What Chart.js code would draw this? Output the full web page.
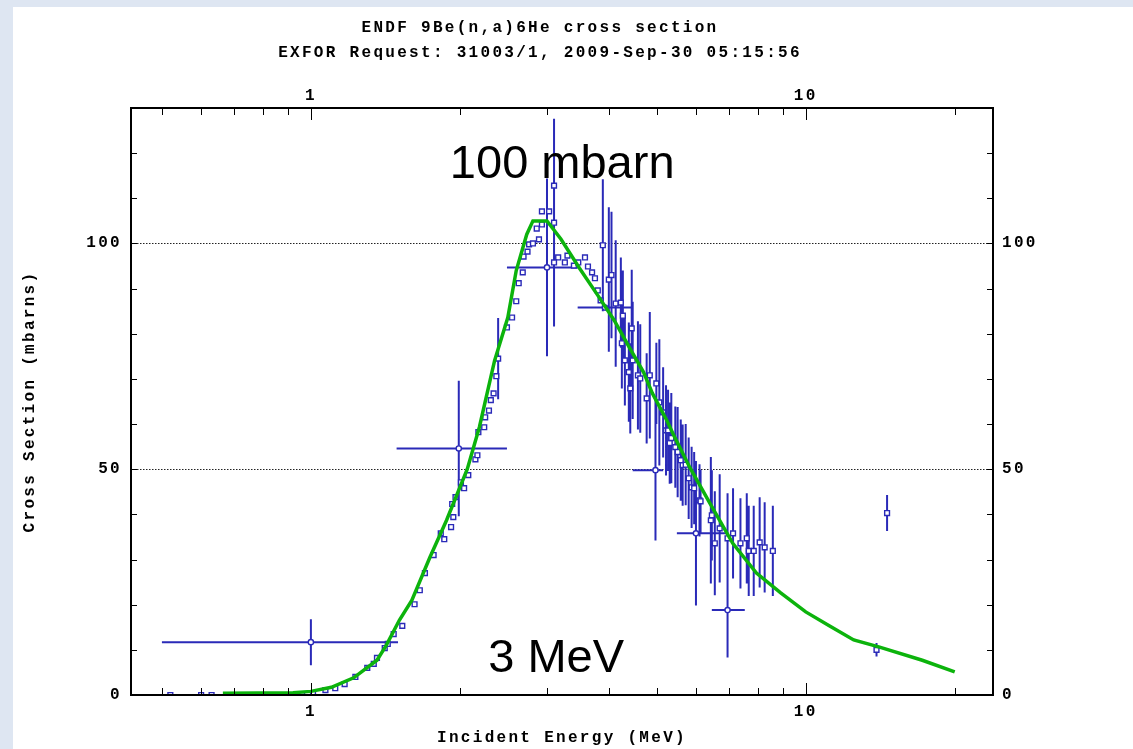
<!DOCTYPE html>
<html>
<head>
<meta charset="utf-8">
<title>ENDF 9Be(n,a)6He cross section</title>
<script src="https://cdn.jsdelivr.net/npm/chart.js@4.4.1/dist/chart.umd.min.js"></script>
<style>
  html, body { margin: 0; padding: 0; background: #dee6f2; }
  #wrap { width: 1133px; height: 749px; }
</style>
</head>
<body>
<div id="wrap"><canvas id="xsChart" width="1133" height="749"></canvas></div>
<script>
// ENDF evaluation (green curve), energy in MeV, cross section in mbarn
const endfE  = [0.664, 0.92, 1.0, 1.1, 1.22, 1.36, 1.42, 1.51, 1.6, 1.74, 1.88, 2.07, 2.19, 2.35, 2.5, 2.6, 2.73, 2.81, 3.0, 3.2,
                3.49, 3.8, 4.1, 4.4, 4.7, 4.9, 5.24, 5.44, 5.83, 6.4, 7.12, 7.95, 8.9, 10, 11.2, 12.5, 14.1, 17.2, 20];
const endfXs = [0.4, 0.5, 0.8, 1.7, 3.8, 7.7, 11, 16.6, 21, 30.5, 38.7, 50, 59.3, 74, 83.6, 94, 102, 105, 105, 101,
                94.5, 88.5, 83, 77, 71.5, 66.8, 60.8, 57, 50.4, 42.5, 33.6, 27, 22.6, 18.4, 15.2, 12.2, 10.6, 7.7, 5.1];

// EXFOR data, open squares without error bars
const sqE  = [0.52, 0.60, 0.63, 0.96, 1.01, 1.07, 1.12, 1.17, 1.23, 1.30, 1.34, 1.36, 1.41, 1.43, 1.47, 1.53, 1.62, 1.66, 1.70, 1.77,
              1.83, 1.86, 1.92, 1.94, 1.93, 1.96, 2.01, 2.04, 2.08, 2.15, 2.17, 2.18, 2.24, 2.25, 2.29, 2.31, 2.34, 2.37, 2.49, 2.55,
              2.60, 2.63, 2.68, 2.69, 2.74, 2.76, 2.81, 2.89, 2.86, 2.93, 2.93, 3.03, 3.10, 3.16, 3.10, 3.26, 3.30, 3.40, 3.47, 3.58,
              3.63, 3.70, 3.75, 3.80, 3.85];
const sqXs = [0, 0, 0, 0, 0.4, 1.1, 1.5, 2.4, 4, 6, 6.9, 8.2, 10.4, 11.3, 13.5, 15.3, 20.1, 23.2, 27, 31,
              35.8, 34.5, 37.2, 39.4, 42.3, 43.8, 47.1, 45.8, 48.7, 52.2, 53.1, 58.2, 59.3, 61.5, 63, 65.3, 66.8, 70.6, 81.4, 83.6,
              87.2, 91.2, 93.6, 97.1, 98.2, 99.8, 100, 100.9, 103.3, 104.2, 107.1, 107.1, 112.8, 96.9, 95.8, 95.8, 97.3, 95.1, 95.8, 96.9,
              94.9, 93.6, 92.3, 89.6, 87.4];

// EXFOR data with vertical error bars
const ebE  = [2.39, 3.10, 3.89, 4.0, 4.05, 4.13, 4.23, 4.27, 4.45, 4.25, 4.31, 4.39, 4.42, 4.47, 4.58, 4.63, 4.77, 4.84, 4.99, 5.06,
              5.15, 5.22, 5.27, 5.31, 5.35, 5.45, 5.51, 5.59, 5.64, 5.72, 5.8, 5.88, 5.95, 6.1, 6.13, 6.43, 6.46, 6.55, 6.7, 6.95,
              7.13, 7.38, 7.6, 7.67, 7.85, 8.07, 8.26, 8.58, 13.9, 14.6];
const ebXs = [74.5, 104.6, 99.6, 92, 93, 86.7, 86.9, 84, 81.2, 77.9, 74.1, 71.5, 67.9, 74.1, 70.8, 70.1, 65.7, 70.8, 69, 64.8,
              62.6, 58.6, 58.6, 55.8, 56.9, 54.9, 53.8, 52, 50.9, 51, 48, 46, 45.8, 43.1, 42.9, 38.7, 39.8, 33.6, 36.9, 34.7,
              35.8, 33.6, 34.7, 31.9, 31.9, 33.8, 32.7, 31.9, 10, 40.3];
const ebDy = [9, 23, 14.6, 16, 14, 14, 10, 10, 13, 10, 10, 11, 10, 13, 12, 12, 10, 14, 9, 14,
              10, 10, 9, 9, 10, 9, 10, 9, 9, 9, 9, 9, 8, 8, 7, 14, 10, 11.5, 12, 10,
              10, 10, 10, 10, 10, 10, 10, 10, 1.5, 4];

// EXFOR data with energy and cross section error bars (open circles)
const crE   = [1.0, 1.99, 3.0, 3.93, 4.97, 6.0, 6.95];
const crXs  = [11.7, 54.6, 94.7, 85.8, 49.8, 35.8, 18.8];
const crDy  = [5.1, 15, 19.7, 0, 15.6, 16, 10.5];
const crElo = [0.5, 1.49, 2.49, 3.46, 4.47, 5.49, 6.46];
const crEhi = [1.5, 2.49, 3.49, 4.45, 5.15, 6.93, 7.53];

// axes
const xTickVals  = [0.5, 0.6, 0.7, 0.8, 0.9, 1, 2, 3, 4, 5, 6, 7, 8, 9, 10, 20];
const xLabelVals = [1, 10];
const yTickVals  = [10, 20, 30, 40, 50, 60, 70, 80, 90, 100, 110, 120];
const yLabelVals = [0, 50, 100];
const yGridVals  = [50, 100];

// text written on the plot
const annoText = ['100 mbarn', '3 MeV'];
const annoE    = [3.22, 3.13];
const annoXs   = [114.4, 5.1];

const blue = '#2a2ab8';
const spacing = '2.3px';

function pts(xs, ys) {
    return xs.map((x, i) => ({ x: x, y: ys[i] }));
}

const pagePlugin = {
    id: 'page',
    beforeLayout(chart) {
        chart.ctx.letterSpacing = spacing;
    },
    beforeDraw(chart) {
        const ctx = chart.ctx;
        ctx.save();
        ctx.fillStyle = '#dee6f2';
        ctx.fillRect(0, 0, chart.width, chart.height);
        ctx.fillStyle = '#ffffff';
        ctx.fillRect(13, 7, chart.width - 13, chart.height - 7);
        ctx.restore();
        ctx.letterSpacing = spacing;
    },
    beforeDatasetsDraw(chart) {
        const { ctx, chartArea: a, scales } = chart;
        const x = scales.x, y = scales.y;
        ctx.save();
        // dotted grid lines
        ctx.strokeStyle = '#222';
        ctx.lineWidth = 1;
        ctx.setLineDash([1.5, 1.5]);
        ctx.beginPath();
        yGridVals.forEach(v => {
            const py = Math.round(y.getPixelForValue(v)) + 0.5;
            ctx.moveTo(a.left, py);
            ctx.lineTo(a.right, py);
        });
        ctx.stroke();
        ctx.setLineDash([]);

        // error bars
        ctx.strokeStyle = blue;
        ctx.lineWidth = 2;
        ctx.beginPath();
        ebE.forEach((e, i) => {
            const px = x.getPixelForValue(e);
            ctx.moveTo(px, y.getPixelForValue(ebXs[i] + ebDy[i]));
            ctx.lineTo(px, y.getPixelForValue(ebXs[i] - ebDy[i]));
        });
        crE.forEach((e, i) => {
            const px = x.getPixelForValue(e);
            const py = y.getPixelForValue(crXs[i]);
            if (crDy[i] > 0) {
                ctx.moveTo(px, y.getPixelForValue(crXs[i] + crDy[i]));
                ctx.lineTo(px, y.getPixelForValue(crXs[i] - crDy[i]));
            }
            ctx.moveTo(x.getPixelForValue(crElo[i]), py);
            ctx.lineTo(x.getPixelForValue(crEhi[i]), py);
        });
        ctx.stroke();
        ctx.restore();
    },
    afterDatasetsDraw(chart) {
        const { ctx, chartArea: a, scales } = chart;
        ctx.save();
        ctx.strokeStyle = '#000';
        ctx.lineWidth = 1;
        ctx.beginPath();
        xTickVals.forEach(v => {
            const px = Math.round(scales.x.getPixelForValue(v)) + 0.5;
            const len = xLabelVals.includes(v) ? 12 : 7;
            ctx.moveTo(px, a.bottom);
            ctx.lineTo(px, a.bottom - len);
            ctx.moveTo(px, a.top);
            ctx.lineTo(px, a.top + len);
        });
        yTickVals.forEach(v => {
            const py = Math.round(scales.y.getPixelForValue(v)) + 0.5;
            ctx.moveTo(a.left, py);
            ctx.lineTo(a.left + 6, py);
            ctx.moveTo(a.right, py);
            ctx.lineTo(a.right - 6, py);
        });
        ctx.stroke();
        ctx.lineWidth = 2;
        ctx.strokeRect(a.left, a.top, a.right - a.left, a.bottom - a.top);
        ctx.restore();
    },
    afterDraw(chart) {
        const { ctx, scales } = chart;
        ctx.save();
        ctx.letterSpacing = '0px';
        ctx.fillStyle = '#000';
        ctx.font = '47px "Liberation Sans", Arial, sans-serif';
        ctx.textAlign = 'center';
        ctx.textBaseline = 'alphabetic';
        annoText.forEach((t, i) => {
            ctx.fillText(t, scales.x.getPixelForValue(annoE[i]), scales.y.getPixelForValue(annoXs[i]));
        });
        ctx.restore();
    }
};

Chart.defaults.font.family = '"Liberation Mono", "Courier New", monospace';
Chart.defaults.font.size = 16;
Chart.defaults.font.weight = 'bold';
Chart.defaults.font.lineHeight = 1.2;
Chart.defaults.color = '#000';

const xAxisBase = {
    type: 'logarithmic',
    min: 0.433,
    max: 23.9,
    grid: { display: false, drawTicks: false },
    border: { display: false },
    afterBuildTicks: (s) => { s.ticks = xLabelVals.map(v => ({ value: v })); },
    ticks: { autoSkip: false, maxRotation: 0, callback: (v) => String(v) }
};
const yAxisBase = {
    type: 'linear',
    min: 0,
    max: 130,
    grid: { display: false, drawTicks: false },
    border: { display: false },
    afterBuildTicks: (s) => { s.ticks = yLabelVals.map(v => ({ value: v })); },
    ticks: { callback: (v) => String(v) }
};

const ctx = document.getElementById('xsChart').getContext('2d');
const chart = new Chart(ctx, {
    type: 'scatter',
    data: {
        datasets: [
            {
                label: 'ENDF',
                data: pts(endfE, endfXs),
                showLine: true,
                borderColor: '#0cb30c',
                borderWidth: 3.5,
                pointRadius: 0,
                tension: 0
            },
            {
                label: 'EXFOR (no errors)',
                data: pts(sqE, sqXs),
                pointStyle: 'rect',
                pointRadius: 3.4,
                borderWidth: 1.4,
                borderColor: blue,
                backgroundColor: '#ffffff'
            },
            {
                label: 'EXFOR (dy)',
                data: pts(ebE, ebXs),
                pointStyle: 'rect',
                pointRadius: 3.4,
                borderWidth: 1.4,
                borderColor: blue,
                backgroundColor: '#ffffff'
            },
            {
                label: 'EXFOR (dx, dy)',
                data: pts(crE, crXs),
                pointStyle: 'circle',
                pointRadius: 2.6,
                borderWidth: 1.4,
                borderColor: blue,
                backgroundColor: '#ffffff'
            }
        ]
    },
    options: {
        responsive: false,
        animation: false,
        events: [],
        layout: { padding: { left: 0, right: 53, top: 0, bottom: 0 } },
        plugins: {
            legend: { display: false },
            tooltip: { enabled: false },
            title: {
                display: true,
                text: ['ENDF 9Be(n,a)6He cross section', 'EXFOR Request: 31003/1, 2009-Sep-30 05:15:56'],
                font: { size: 16, weight: 'bold', lineHeight: 1.575 },
                padding: { top: 15.4, bottom: 0 }
            }
        },
        scales: {
            x: Object.assign({}, xAxisBase, {
                position: 'bottom',
                ticks: Object.assign({}, xAxisBase.ticks, { padding: 7 }),
                title: { display: true, text: 'Incident Energy (MeV)', padding: { top: 0, bottom: 1.4 } },
                afterFit: (s) => { s.height = 54; }
            }),
            x2: Object.assign({}, xAxisBase, {
                axis: 'x',
                position: 'top',
                ticks: Object.assign({}, xAxisBase.ticks, { padding: 2 }),
                afterFit: (s) => { s.height = 42.2; }
            }),
            y: Object.assign({}, yAxisBase, {
                position: 'left',
                ticks: Object.assign({}, yAxisBase.ticks, { padding: 9 }),
                title: { display: true, text: 'Cross Section (mbarns)', padding: { top: 20.4, bottom: 0 } },
                afterFit: (s) => { s.width = 131; }
            }),
            y2: Object.assign({}, yAxisBase, {
                axis: 'y',
                position: 'right',
                ticks: Object.assign({}, yAxisBase.ticks, { padding: 9 }),
                afterFit: (s) => { s.width = 87; }
            })
        }
    },
    plugins: [pagePlugin]
});
</script>
</body>
</html>
